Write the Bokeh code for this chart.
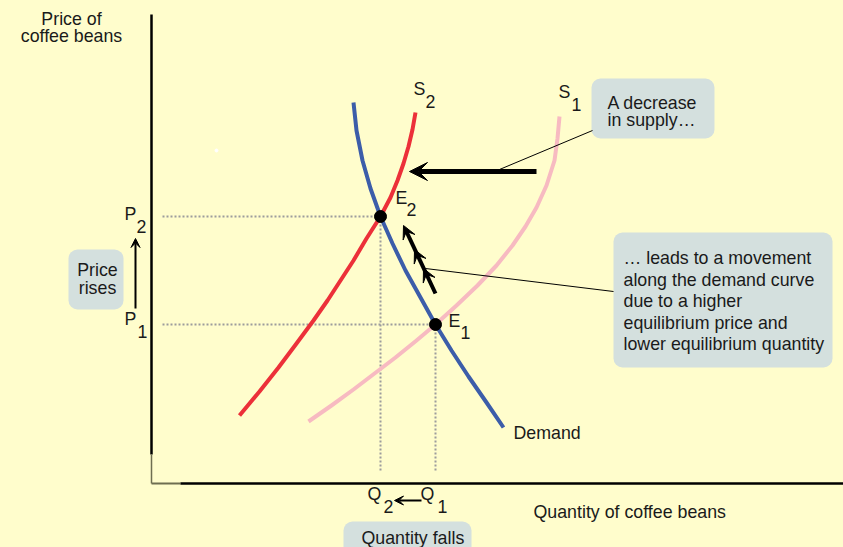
from bokeh.plotting import figure
from bokeh.models import Range1d, Arrow, VeeHead
from bokeh.core.properties import value
from bokeh.embed import file_html
from bokeh.resources import INLINE

# ---------------- data (arbitrary quantity / price units) ----------------
demand_q = [202, 205, 211, 219, 229, 241, 254, 269, 284, 300, 317, 335, 352]
demand_p = [383, 355, 325, 297, 269, 242, 215, 188, 161, 135, 109, 83, 58]

s2_q = [88, 108, 127, 145, 162, 176, 189, 202, 215, 229, 239, 246, 252, 257, 261, 264]
s2_p = [70, 94, 118, 142, 165, 185, 205, 225, 247, 269, 288, 305, 322, 339, 356, 373]

s1_q = [157, 180, 202, 223, 244, 265, 284, 305, 326, 345, 361, 374, 385, 395, 403, 406, 408]
s1_p = [64, 80, 96, 112, 128, 145, 161, 180, 200, 220, 240, 259, 278, 300, 325, 347, 369]

eq_q = [284, 229]          # E1, E2 quantities (Q1, Q2)
eq_p = [161, 269]          # E1, E2 prices (P1, P2)
guide_start = 11           # dotted price guides start
guide_floor = 15           # dotted quantity guides end

# arrows: (x_start, y_start, x_end, y_end)
shift_arrow = [385, 314, 258, 314]
move_arrow = [284, 192, 254, 256]
move_heads = [(284, 192, 272, 217), (284, 192, 263, 236), (284, 192, 252, 260)]
price_arrow = [-16, 177, -16, 247]
qty_arrow = [270, -15, 243, -15]
leader_lines = [([348, 441], [316, 355]), ([274, 462], [217, 194])]

# text labels
main_labels = ["Price of", "coffee beans", "Price", "rises", "Demand",
               "Quantity of coffee beans", "Quantity falls",
               "A decrease", "in supply\u2026",
               "\u2026 leads to a movement", "along the demand curve",
               "due to a higher", "equilibrium price and",
               "lower equilibrium quantity"]
main_x = [-80, -80, -54, -54, 362, 382, 210, 456, 456, 472, 472, 472, 472, 472]
main_y = [467, 450, 216, 198, 53, -26, -52, 383, 366, 228, 206, 185, 163, 142]
main_align = ["center", "center", "center", "center", "left", "left", "left",
              "left", "left", "left", "left", "left", "left", "left"]

sym_letters = ["P", "P", "S", "S", "E", "E", "Q", "Q"]
sym_x = [-27, -27, 262, 407, 244, 297, 216, 269]
sym_y = [272, 167, 397, 394, 288, 165, -8, -8]
sub_digits = ["2", "1", "2", "1", "2", "1", "2", "1"]
sub_x = [-15, -14, 274, 420, 255, 309, 232, 286]
sub_y = [259, 154, 384, 381, 276, 153, -21, -21]

# ---------------- styling ----------------
BG = "#FFFDCC"
BOX = "#D4E0DE"
TXT = "#1A1A1A"
FONT = value("Liberation Sans")
FS = "17.8px"

p = figure(width=843, height=547, x_range=Range1d(-151, 692), y_range=Range1d(-62, 485),
           output_backend="svg", toolbar_location=None, min_border=0,
           x_axis_location=None, y_axis_location=None)
p.grid.visible = False
p.outline_line_color = None
p.background_fill_color = BG
p.border_fill_color = BG

# callout boxes
p.quad(left=[-83, 192, 440, 462], right=[-28, 320, 563, 681],
       bottom=[176, -90, 347, 118], top=[236, -36, 407, 253],
       fill_color=BOX, line_color=None, border_radius=9)

# axes (drawn as lines from the corner)
p.line([0, 0], [31, 471], line_color="black", line_width=2.5)
p.line([0, 0], [2, 31], line_color="#6E6E50", line_width=1.5)
p.line([0, 29], [2, 2], line_color="#6E6E50", line_width=2)
p.line([29, 700], [2, 2], line_color="black", line_width=2.5)

# dotted guides
for q, pr in zip(eq_q, eq_p):
    p.line([guide_start, q], [pr, pr], line_color="#9C9C9C", line_width=2, line_dash="2 2")
    p.line([q, q], [pr, guide_floor], line_color="#9C9C9C", line_width=2, line_dash="2 2")

# curves
p.line(s1_q, s1_p, line_color="#F7BAC1", line_width=4, line_join="round")
p.line(s2_q, s2_p, line_color="#EC3039", line_width=4, line_join="round")
p.line(demand_q, demand_p, line_color="#3C5DA9", line_width=4, line_join="round")

# leader lines
for xs, ys in leader_lines:
    p.line(xs, ys, line_color="black", line_width=1)

# arrows
def add_arrow(c, lw, size):
    p.add_layout(Arrow(x_start=c[0], y_start=c[1], x_end=c[2], y_end=c[3],
                       line_width=lw, line_color="black",
                       end=VeeHead(size=size, fill_color="black", line_color="black", line_width=1)))

add_arrow(shift_arrow, 5, 18)
p.line([move_arrow[0], move_arrow[2]], [move_arrow[1], move_arrow[3]], line_color="black", line_width=4)
for h in move_heads:
    add_arrow(h, 0.01, 13)
add_arrow(price_arrow, 2, 9)
add_arrow(qty_arrow, 2, 9)

# equilibrium points
p.scatter(eq_q, eq_p, size=12, color="black")
p.scatter([65], [335], size=3, color="white")

# texts
p.text(x=main_x, y=main_y, text=main_labels, text_align=main_align,
       text_baseline="alphabetic", text_font=FONT, text_font_size=FS, text_color=TXT)
p.text(x=sym_x, y=sym_y, text=sym_letters, text_align="left",
       text_baseline="alphabetic", text_font=FONT, text_font_size=FS, text_color=TXT)
p.text(x=sub_x, y=sub_y, text=sub_digits, text_align="left",
       text_baseline="alphabetic", text_font=FONT, text_font_size=FS, text_color=TXT)

tmpl = ("{% block postamble %}<style>html, body { background: " + BG +
        "; margin: 0; overflow: hidden; }</style>{% endblock %}")
open("out.html", "w").write(file_html(p, INLINE, title="Supply decrease", template=tmpl))
